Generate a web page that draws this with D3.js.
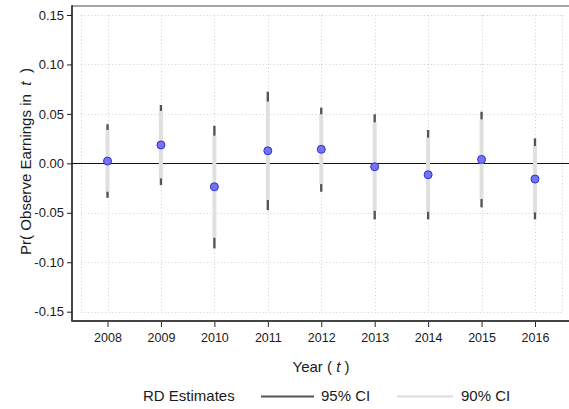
<!DOCTYPE html>
<html>
<head>
<meta charset="utf-8">
<script src="https://cdn.jsdelivr.net/npm/d3@7"></script>
<style>
  body { margin: 0; background: #fff; }
  svg { display: block; font-family: "Liberation Sans", Arial, sans-serif; }
</style>
</head>
<body>
<svg id="chart" width="569" height="409"></svg>
<script>
// RD estimates by year with 90% and 95% confidence intervals
const years    = [2008, 2009, 2010, 2011, 2012, 2013, 2014, 2015, 2016];
const estimate = [0.0023, 0.0186, -0.0237, 0.0127, 0.0142, -0.0034, -0.0115, 0.0040, -0.0159];
const lo95     = [-0.0348, -0.0220, -0.0860, -0.0473, -0.0287, -0.0567, -0.0567, -0.0445, -0.0567];
const hi95     = [0.0395, 0.0590, 0.0380, 0.0725, 0.0563, 0.0496, 0.0337, 0.0522, 0.0253];
const lo90     = [-0.0287, -0.0152, -0.0753, -0.0371, -0.0210, -0.0480, -0.0490, -0.0361, -0.0496];
const hi90     = [0.0337, 0.0530, 0.0280, 0.0624, 0.0496, 0.0415, 0.0260, 0.0445, 0.0175];
const yTicks   = [-0.15, -0.10, -0.05, 0.00, 0.05, 0.10, 0.15];
const legendLabels = ["RD Estimates", "95% CI", "90% CI"];

const svg = d3.select("#chart");
const W = 569;
const panelLeft = 72, panelTop = 6, panelBottom = 321;

const x = d3.scaleLinear().domain([2007.5, 2016.5]).range([80.8, 561.7]);
const y = d3.scaleLinear().domain([-0.15, 0.15]).range([311.7, 15]);

const rows = years.map((yr, i) => ({
  year: yr, est: estimate[i], lo95: lo95[i], hi95: hi95[i], lo90: lo90[i], hi90: hi90[i]
}));

// dotted grid
const grid = svg.append("g").attr("stroke", "#cfcfcf").attr("stroke-width", 1)
  .attr("stroke-dasharray", "1,2.5");
const gridX = [2007.5, ...years, 2016.5];
grid.selectAll("line.gx").data(gridX).join("line")
  .attr("x1", d => Math.round(x(d)) + 0.5).attr("x2", d => Math.round(x(d)) + 0.5)
  .attr("y1", y(0.15)).attr("y2", y(-0.15));
grid.selectAll("line.gy").data(yTicks.filter(t => t !== 0)).join("line")
  .attr("x1", x(2007.5)).attr("x2", x(2016.5))
  .attr("y1", d => Math.round(y(d)) + 0.5).attr("y2", d => Math.round(y(d)) + 0.5);

// zero reference line
svg.append("line")
  .attr("x1", panelLeft).attr("x2", W)
  .attr("y1", Math.round(y(0)) + 0.5).attr("y2", Math.round(y(0)) + 0.5)
  .attr("stroke", "#111").attr("stroke-width", 1);

// 95% intervals underneath, 90% intervals on top
svg.append("g").selectAll("line").data(rows).join("line")
  .attr("x1", d => x(d.year)).attr("x2", d => x(d.year))
  .attr("y1", d => y(d.lo95)).attr("y2", d => y(d.hi95))
  .attr("stroke", "#555").attr("stroke-width", 2.4);
svg.append("g").selectAll("line").data(rows).join("line")
  .attr("x1", d => x(d.year)).attr("x2", d => x(d.year))
  .attr("y1", d => y(d.lo90)).attr("y2", d => y(d.hi90))
  .attr("stroke", "#e0e0e0").attr("stroke-width", 4);

// point estimates
svg.append("g").selectAll("circle").data(rows).join("circle")
  .attr("cx", d => x(d.year)).attr("cy", d => y(d.est)).attr("r", 4)
  .attr("fill", "#7474ee").attr("stroke", "#2f2fdc").attr("stroke-width", 1);

// axes (plain hyphen for negative tick labels)
const fmtY = d => d3.format(".2f")(d).replace("\u2212", "-");
const yAxis = svg.append("g").attr("transform", `translate(${panelLeft},0)`)
  .call(d3.axisLeft(y).tickValues(yTicks).tickFormat(fmtY).tickSize(5).tickPadding(3));
yAxis.select(".domain").remove();
yAxis.selectAll(".tick line").attr("stroke", "#222");
yAxis.selectAll(".tick text").attr("font-size", 13).attr("fill", "#1a1a1a")
  .attr("font-family", "Liberation Sans, Arial, sans-serif");

const xAxis = svg.append("g").attr("transform", `translate(0,${panelBottom})`)
  .call(d3.axisBottom(x).tickValues(years).tickFormat(d3.format("d")).tickSize(6).tickPadding(6));
xAxis.select(".domain").remove();
xAxis.selectAll(".tick line").attr("stroke", "#222");
xAxis.selectAll(".tick text").attr("font-size", 12.5).attr("fill", "#1a1a1a")
  .attr("font-family", "Liberation Sans, Arial, sans-serif");

// panel border lines
svg.append("line").attr("x1", panelLeft).attr("x2", W).attr("y1", panelTop).attr("y2", panelTop)
  .attr("stroke", "#8a8a8a").attr("stroke-width", 1.6);
svg.append("line").attr("x1", panelLeft).attr("x2", panelLeft).attr("y1", panelTop - 0.8).attr("y2", panelBottom + 0.8)
  .attr("stroke", "#1a1a1a").attr("stroke-width", 1.6);
svg.append("line").attr("x1", panelLeft).attr("x2", W).attr("y1", panelBottom).attr("y2", panelBottom)
  .attr("stroke", "#444").attr("stroke-width", 1.8);

// axis titles
const xt = svg.append("text").attr("x", 321).attr("y", 372).attr("text-anchor", "middle")
  .attr("font-size", 15).attr("fill", "#1a1a1a");
xt.append("tspan").text("Year ( ");
xt.append("tspan").attr("font-style", "italic").text("t");
xt.append("tspan").text(" )");

const yt = svg.append("text").attr("transform", "translate(31,161.5) rotate(-90)")
  .attr("text-anchor", "middle").attr("font-size", 15).attr("fill", "#1a1a1a")
  .attr("textLength", 187).attr("lengthAdjust", "spacingAndGlyphs");
yt.append("tspan").text("Pr( Observe Earnings in \u00a0");
yt.append("tspan").attr("font-style", "italic").text("t");
yt.append("tspan").text("\u00a0 )");

// legend
const lg = svg.append("g").attr("font-size", 15).attr("fill", "#1a1a1a");
lg.append("text").attr("x", 143).attr("y", 401).text(legendLabels[0]);
lg.append("line").attr("x1", 261).attr("x2", 314).attr("y1", 396.5).attr("y2", 396.5)
  .attr("stroke", "#555").attr("stroke-width", 2);
lg.append("text").attr("x", 321).attr("y", 401).text(legendLabels[1]);
lg.append("line").attr("x1", 397).attr("x2", 453).attr("y1", 396.5).attr("y2", 396.5)
  .attr("stroke", "#dddddd").attr("stroke-width", 2);
lg.append("text").attr("x", 461).attr("y", 401).text(legendLabels[2]);
</script>
</body>
</html>
